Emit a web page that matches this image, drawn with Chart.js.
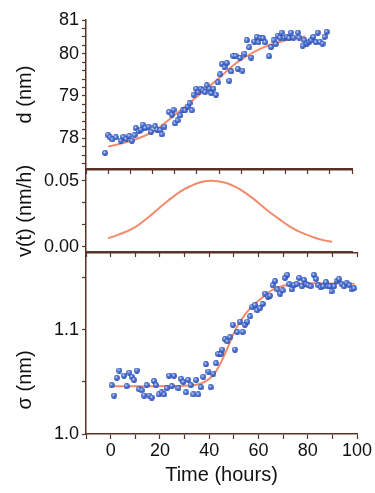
<!DOCTYPE html>
<html>
<head>
<meta charset="utf-8">
<script src="https://cdn.jsdelivr.net/npm/chart.js@4.4.1/dist/chart.umd.min.js"></script>
<style>
html, body { margin: 0; padding: 0; background: #fff; }
#wrap { position: relative; width: 375px; height: 493px; }
#wrap canvas { position: absolute; left: 0; top: 0; }
</style>
</head>
<body>
<div id="wrap">
  <canvas id="dChart" width="375" height="493"></canvas>
  <canvas id="vChart" width="375" height="493"></canvas>
  <canvas id="sChart" width="375" height="493"></canvas>
</div>
<script>
// d(t) measured
var dTime = [-1.4,0,0.9,1.9,3.5,5.7,6.9,8.1,9.6,10.7,11.9,12.5,13.7,14.7,15.6,16.7,18.2,19.4,21.2,22,23.5,24.2,25.4,27.5,28.7,29.5,30.2,31.3,32.5,33.7,34.7,35.8,36.7,37.7,38.5,39.7,40.7,41.8,42.7,43.7,44.5,45.7,46.5,47.5,48.6,49.5,50.5,51.3,52.5,53.5,54.6,55.5,56.5,57.5,58.5,59.5,60.6,61.5,62.6,63.6,64.5,65.9,67,67.8,68.8,69.8,70.8,72.6,73.5,74.6,75.6,76.5,77.6,78.3,79.5,80.6,81.6,82.5,83.6,85.6,86.2,87.7,88.5,89.6,90.7,91.6,92.6,93.7,94.6,95.6,96.7,97.6,98.6];
var dValue = [77.65,78.07,78.02,77.97,78.02,77.94,78.03,77.98,78.05,77.94,78.07,78.24,78.16,78.2,78.32,78.24,78.27,78.15,78.28,78.2,78.19,78.09,78.27,78.62,78.56,78.67,78.35,78.42,78.54,78.66,78.66,78.75,78.83,78.66,79.03,79.17,79.09,79.17,79.13,79.09,79.25,79.17,79.07,79.17,79.03,79.32,79.51,79.76,79.68,79.78,79.36,79.58,79.95,79.95,79.64,79.9,79.6,80.0,80.32,80.15,79.91,80.29,80.4,80.27,80.37,80.37,80.27,79.94,80.16,80.32,80.23,80.42,80.38,80.5,80.38,80.4,80.37,80.5,80.38,80.5,80.38,80.19,80.32,80.24,80.28,80.32,80.4,80.27,80.5,80.28,80.24,80.4,80.52];
// d(t) fit
var dFitTime = [0,10,20,30,40,45,50,55,60,70,80,89];
var dFitValue = [77.80,77.93,78.15,78.55,78.98,79.2,79.42,79.66,79.86,80.15,80.32,80.41];
// growth rate
var vTime = [0,5,11.4,17,22,27,32.5,37,42,46.8,52,56,59.5,65,71.6,77,82,87,92.6,97,101];
var vValue = [0.0066,0.0095,0.0142,0.021,0.028,0.035,0.0419,0.046,0.0492,0.0502,0.049,0.0466,0.0436,0.0372,0.028,0.0213,0.0154,0.011,0.0074,0.0052,0.004];
// sigma measured
var sTime = [0.4,1.4,2.5,3.5,5.4,6.5,7.6,8.6,9.5,10.6,11.6,12.6,13.6,14.6,15.7,16.7,17.6,18.4,19.6,20.7,21.7,22.8,23.7,24.8,25.7,27.5,28.6,29.5,30.6,31.5,32.5,33.6,34.7,35.6,36.6,37.6,38.7,39.7,40.6,41.7,42.8,43.7,44.7,45.3,46.4,47.4,48.5,49.6,50.5,51.4,52.5,53.6,54.5,55.5,56.6,57.5,58.6,59.5,60.6,61.7,62.7,63.8,64.7,65.8,66.7,67.7,68.8,69.8,70.8,71.7,72.5,73.5,74.4,75.5,76.6,77.6,78.5,79.3,80.2,81.2,82.5,83.4,84.3,85.3,86.3,87.4,88.2,89.0,89.7,90.7,91.8,92.7,93.8,94.7,95.8,96.9,97.8,98.8];
var sValue = [1.047,1.037,1.054,1.061,1.056,1.046,1.059,1.055,1.052,1.061,1.043,1.042,1.037,1.047,1.037,1.035,1.051,1.047,1.038,1.040,1.038,1.044,1.056,1.046,1.056,1.044,1.053,1.050,1.040,1.052,1.047,1.038,1.052,1.038,1.045,1.055,1.067,1.060,1.045,1.058,1.068,1.077,1.077,1.081,1.091,1.089,1.093,1.105,1.081,1.098,1.108,1.098,1.105,1.108,1.113,1.122,1.124,1.119,1.121,1.125,1.135,1.132,1.133,1.143,1.147,1.139,1.135,1.138,1.150,1.153,1.144,1.139,1.143,1.144,1.150,1.142,1.148,1.144,1.143,1.142,1.153,1.149,1.143,1.141,1.142,1.146,1.142,1.142,1.137,1.142,1.147,1.149,1.144,1.142,1.145,1.143,1.139,1.140];
// sigma fit
var sFitTime = [0,20,30,36,40,43,46,48,50,52,54,56,58,60,63,66,70,75,85,99];
var sFitValue = [1.046,1.046,1.0465,1.048,1.053,1.061,1.075,1.086,1.097,1.106,1.113,1.119,1.124,1.128,1.134,1.139,1.1425,1.1445,1.145,1.1445];

// tick labels
var dTicks = [78,79,80,80.8];
var dTickLabels = ['78','79','80','81'];
var vTicks = [0,0.05];
var vTickLabels = ['0.00','0.05'];
var sTicks = [1.0,1.1];
var sTickLabels = ['1.0','1.1'];
var timeTicks = [0,20,40,60,80,100];

var axisColor = '#5a3226';
var fitColor = '#f48a6c';
var fontFamily = '"Liberation Sans", Arial, sans-serif';

Chart.defaults.font.family = fontFamily;
Chart.defaults.color = '#111';

function makeBall()
{
  var c = document.createElement('canvas');
  c.width = 6; c.height = 6;
  var g = c.getContext('2d');
  var grad = g.createRadialGradient(2.2, 2.0, 0.2, 3, 3, 3.2);
  grad.addColorStop(0, '#eef3ff');
  grad.addColorStop(0.35, '#5a80de');
  grad.addColorStop(1, '#1f40a4');
  g.fillStyle = grad;
  g.beginPath();
  g.arc(3, 3, 2.9, 0, Math.PI * 2);
  g.fill();
  return c;
}
var ball = makeBall();

function toPoints(xs, ys)
{
  var arr = [];
  for (var i = 0; i < xs.length; i++) arr.push({x: xs[i], y: ys[i]});
  return arr;
}

function dotSet(xs, ys)
{
  return { data: toPoints(xs, ys), pointStyle: ball, pointRadius: 3, showLine: false, order: 1 };
}

function fitSet(xs, ys)
{
  return { data: toPoints(xs, ys), showLine: true, borderColor: fitColor, borderWidth: 2,
           pointRadius: 0, tension: 0.4, order: 2 };
}

function yAxis(min, max, step, majors, labels, title, titleOn)
{
  return {
    position: 'left', min: min, max: max,
    afterBuildTicks: function(scale)
    {
      var list = [];
      var start = Math.ceil((min - 1e-9) / step);
      for (var k = start; k * step <= max + 1e-9; k++) list.push({value: +(k * step).toFixed(5)});
      for (var j = 0; j < majors.length; j++)
      {
        var found = list.some(function(t) { return Math.abs(t.value - majors[j]) < 1e-6; });
        if (!found) list.push({value: majors[j]});
      }
      scale.ticks = list;
    },
    afterFit: function(scale) { scale.width = 86; },
    ticks: {
      autoSkip: false, padding: 3, font: {size: 18},
      callback: function(value)
      {
        for (var j = 0; j < majors.length; j++)
          if (Math.abs(value - majors[j]) < 1e-6) return labels[j];
        return '';
      }
    },
    grid: { drawOnChartArea: false, drawTicks: true, tickLength: 4, tickColor: axisColor, tickWidth: 1.2 },
    border: { display: true, color: axisColor, width: 1.5 },
    title: { display: titleOn, text: title, font: {size: 20}, color: '#111', padding: {top: 13, bottom: 0} }
  };
}

function plainX(min, max, pos, inward)
{
  return {
    type: 'linear', position: pos, min: min, max: max,
    afterFit: function(scale) { scale.height = 0; },
    ticks: { display: false, stepSize: 10, autoSkip: false },
    grid: { drawOnChartArea: false, drawTicks: inward, tickLength: -4, tickColor: axisColor, tickWidth: 1.2 },
    border: { display: true, color: axisColor, width: 1.5 }
  };
}

// top panel: d (nm)
new Chart(document.getElementById('dChart'), {
  type: 'scatter',
  data: { datasets: [ dotSet(dTime, dValue), fitSet(dFitTime, dFitValue) ] },
  options: {
    responsive: false, animation: false, devicePixelRatio: 1,
    layout: { padding: { left: 0, right: 23, top: 20, bottom: 324 } },
    plugins: { legend: { display: false }, tooltip: { enabled: false } },
    scales: {
      x: plainX(-10, 110, 'bottom', false),
      y: yAxis(77.27, 80.8, 0.2, dTicks, dTickLabels, 'd (nm)', true)
    }
  }
});

// middle panel: v(t)
new Chart(document.getElementById('vChart'), {
  type: 'scatter',
  data: { datasets: [ fitSet(vTime, vValue) ] },
  options: {
    responsive: false, animation: false, devicePixelRatio: 1,
    layout: { padding: { left: 0, right: 23, top: 170, bottom: 241 } },
    plugins: { legend: { display: false }, tooltip: { enabled: false } },
    scales: {
      x: plainX(-10, 110, 'bottom', false),
      x2: plainX(-10, 110, 'top', true),
      y: yAxis(-0.0038, 0.0583, 0.05 / 3, vTicks, vTickLabels, 'v(t) (nm/h)', true)
    }
  }
});

// bottom panel: sigma (nm)
var sigmaTitle = {
  id: 'sigmaTitle',
  afterDraw: function(chart)
  {
    var ctx = chart.ctx;
    var yScale = chart.scales.y;
    ctx.save();
    ctx.translate(yScale.left + 25, yScale.getPixelForValue(1.052));
    ctx.rotate(-Math.PI / 2);
    ctx.font = '20px ' + fontFamily;
    ctx.fillStyle = '#111';
    ctx.textAlign = 'center';
    ctx.textBaseline = 'middle';
    ctx.fillText('\u03c3 (nm)', 0, 0);
    ctx.restore();
  }
};

new Chart(document.getElementById('sChart'), {
  type: 'scatter',
  data: { datasets: [ dotSet(sTime, sValue), fitSet(sFitTime, sFitValue) ] },
  options: {
    responsive: false, animation: false, devicePixelRatio: 1,
    layout: { padding: { left: 0, right: 18, top: 253, bottom: 0 } },
    plugins: { legend: { display: false }, tooltip: { enabled: false } },
    scales: {
      x: {
        type: 'linear', position: 'bottom', min: -10, max: 100,
        afterFit: function(scale) { scale.height = 59; },
        ticks: {
          stepSize: 10, autoSkip: false, maxRotation: 0, padding: 1, font: {size: 18},
          callback: function(value) { return timeTicks.indexOf(value) >= 0 ? String(value) : ''; }
        },
        grid: { drawOnChartArea: false, drawTicks: true, tickLength: 5, tickColor: axisColor, tickWidth: 1.2 },
        border: { display: true, color: axisColor, width: 1.5 },
        title: { display: true, text: 'Time (hours)', font: {size: 20}, color: '#111', padding: {top: 0, bottom: 6} }
      },
      x2: plainX(-10, 100, 'top', true),
      y: yAxis(1.0, 1.174, 0.05, sTicks, sTickLabels, '', false)
    }
  },
  plugins: [sigmaTitle]
});
</script>
</body>
</html>
